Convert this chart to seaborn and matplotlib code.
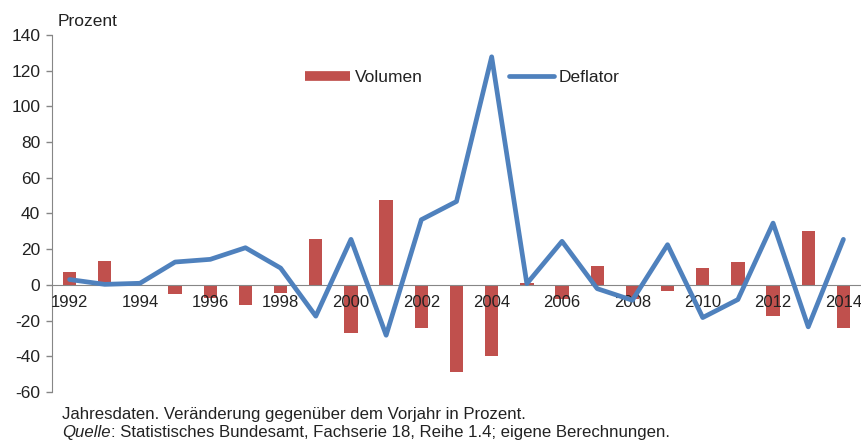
import numpy as np
import matplotlib
matplotlib.use("Agg")
import matplotlib.pyplot as plt
from matplotlib.lines import Line2D
import seaborn as sb

years = [str(y) for y in range(1992, 2015)]
volumen = [7.0, 13.4, 0.0, -4.9, -7.5, -11.2, -4.3, 25.9, -27.2, 47.8, -23.9, -48.6,
           -39.9, 1.0, -8.0, 10.4, -8.0, -3.2, 9.3, 12.8, -17.7, 29.9, -23.9]
deflator = [3.0, 0.3, 0.9, 12.8, 14.3, 20.8, 9.4, -17.5, 25.5, -28.2, 36.5, 46.7,
            127.7, 0.7, 24.4, -2.1, -8.6, 22.5, -18.3, -8.2, 34.6, -23.5, 25.5]
yticks = list(range(-60, 141, 20))

red = "#C0504D"
blue = "#4F81BD"
grey = "#868686"
txt = "#222222"

sb.set_style("white")
plt.rcParams['font.family'] = ['Liberation Sans', 'DejaVu Sans']

fig = plt.figure(figsize=(8.61, 4.41), dpi=100)
ax = fig.add_axes([52 / 861, 0.111, 1 - 52 / 861, 0.81])

sb.barplot(x=years, y=volumen, color=red, width=0.38, saturation=1,
           linewidth=0, ax=ax, zorder=1)
sb.lineplot(x=np.arange(len(years)), y=deflator, color=blue, lw=3.4, ax=ax, zorder=3)

# Beschriftung über den Balken, Linie darüber
ax.set_axisbelow(False)

ax.set_xlim(-0.5, len(years) - 0.5)
ax.set_ylim(yticks[0], yticks[-1])
ax.set_yticks(yticks)
ax.set_yticklabels([str(v) for v in yticks])

# Kategorie-Achse wie in Excel: Striche zwischen den Jahren, Beschriftung jedes 2. Jahr
ax.set_xticks(np.arange(-0.5, len(years), 1))
ax.set_xticklabels([])
ax.set_xticks(np.arange(0, len(years), 2), minor=True)
ax.set_xticklabels(years[::2], minor=True)
ax.tick_params(axis="x", which="major", direction="out", length=4, width=1, color=grey)
ax.tick_params(axis="x", which="minor", length=0, pad=7.5, labelsize=12, labelcolor=txt)
ax.tick_params(axis="y", direction="out", length=4, width=1, color=grey, pad=4.5,
               left=True, labelsize=12.5, labelcolor=txt)

ax.spines["top"].set_visible(False)
ax.spines["right"].set_visible(False)
ax.spines["bottom"].set_position(("data", 0))
ax.spines["bottom"].set_color(grey)
ax.spines["left"].set_color(grey)
ax.set_xlabel("")
ax.set_ylabel("")

handles = [Line2D([], [], color=red, lw=7, solid_capstyle="butt"),
           Line2D([], [], color=blue, lw=3.4)]
fig.legend(handles, ["Volumen", "Deflator"], loc="center", ncol=2, frameon=False,
           bbox_to_anchor=(0.537, 0.825), bbox_transform=fig.transFigure,
           fontsize=12.5, handlelength=2.6, handletextpad=0.25, columnspacing=5.0,
           labelcolor=txt)

fig.text(58 / 861, 1 - 21 / 441, "Prozent", fontsize=12.5, color=txt, va="center")

fig.text(62 / 861, 1 - 415 / 441,
         "Jahresdaten. Veränderung gegenüber dem Vorjahr in Prozent.",
         fontsize=12.1, color=txt, va="center")
q = fig.text(62 / 861, 1 - 433 / 441, "Quelle", fontsize=12.1, color=txt,
             va="center", style="italic")
fig.canvas.draw()
bb = q.get_window_extent()
fig.text(bb.x1 / fig.bbox.width, 1 - 433 / 441,
         ": Statistisches Bundesamt, Fachserie 18, Reihe 1.4; eigene Berechnungen.",
         fontsize=12.1, color=txt, va="center")

fig.savefig("out.png", dpi=100)
